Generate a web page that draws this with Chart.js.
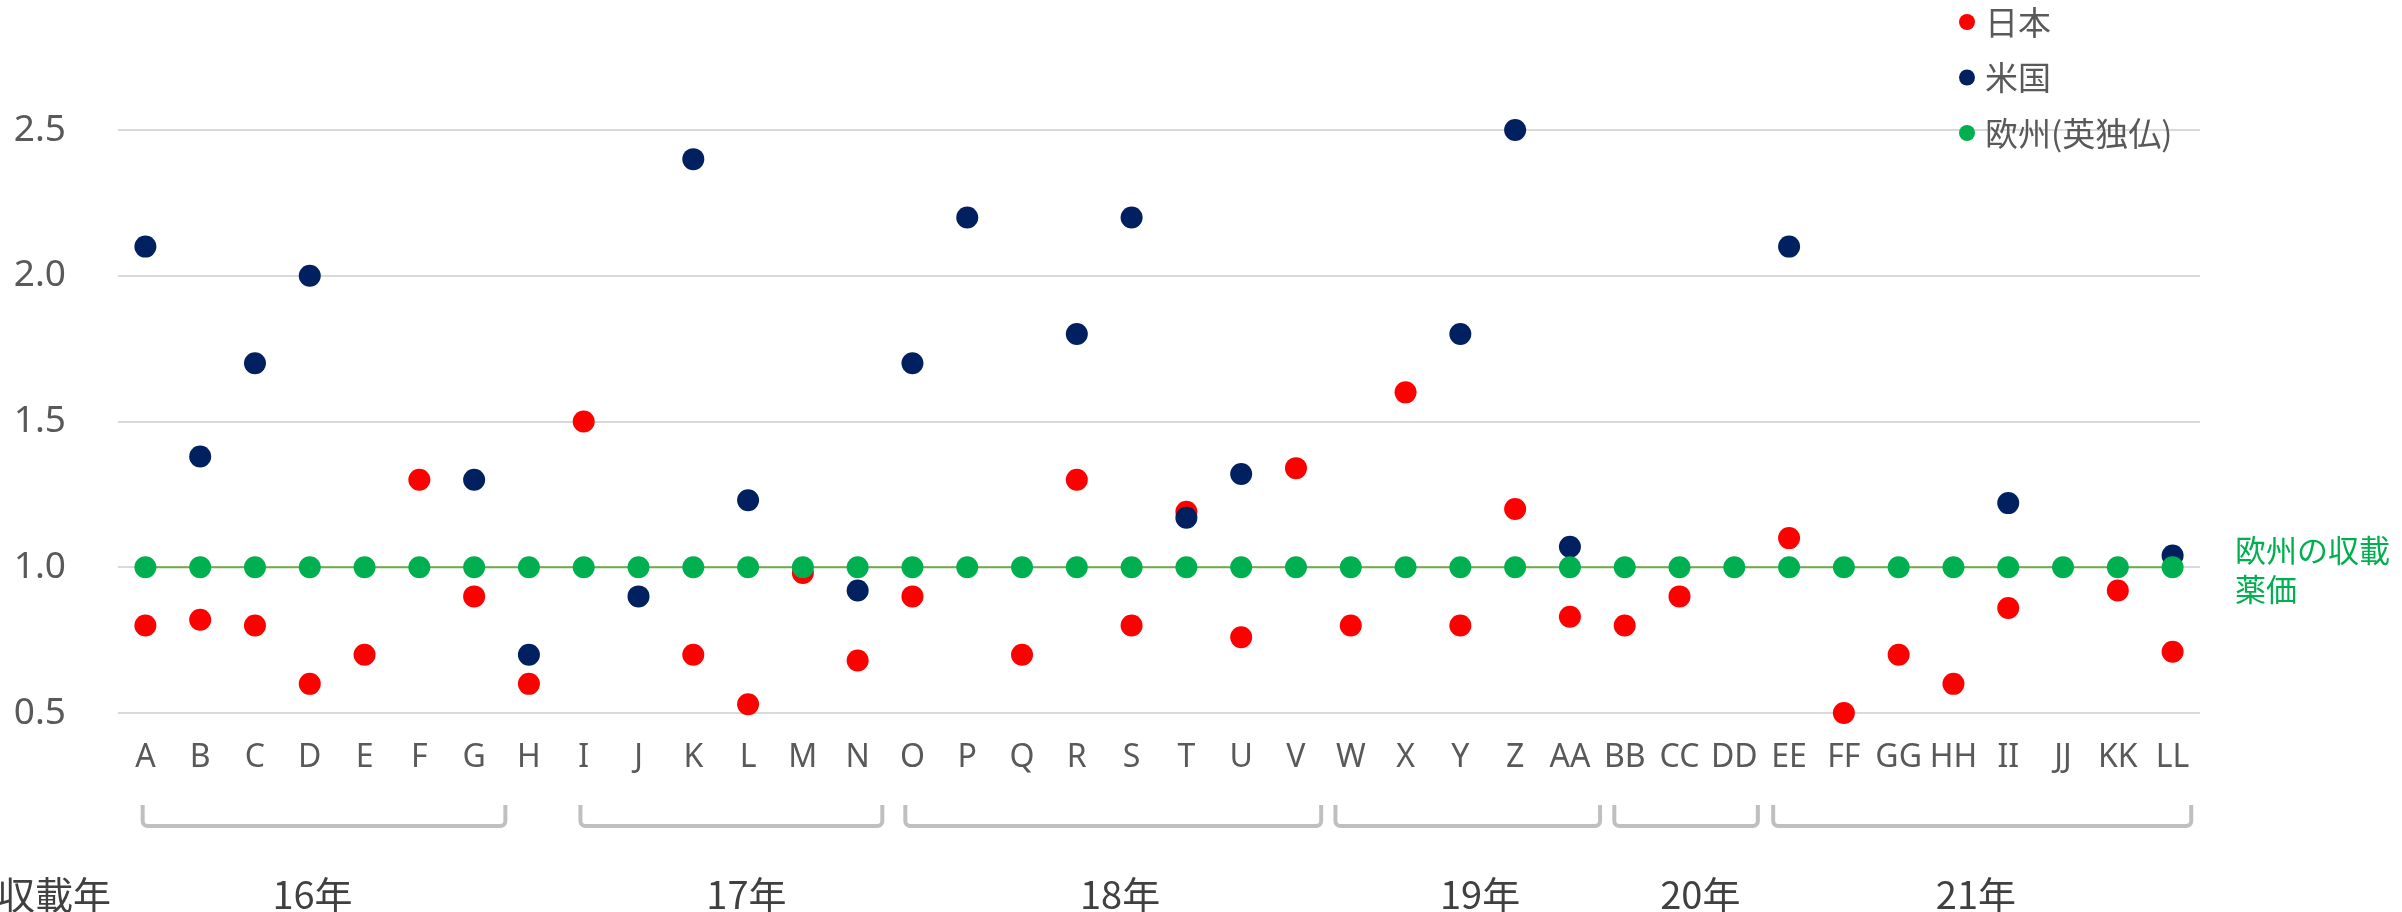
<!DOCTYPE html>
<html>
<head>
<meta charset="utf-8">
<script src="https://cdn.jsdelivr.net/npm/chart.js@4.4.1/dist/chart.umd.min.js"></script>
<style>
  html, body { margin: 0; padding: 0; background: #fff; }
</style>
</head>
<body>
<canvas id="priceChart" width="2402" height="912"></canvas>
<script>
// categories (products) and values
const categories = ['A','B','C','D','E','F','G','H','I','J','K','L','M','N','O','P','Q','R','S','T','U','V','W','X','Y','Z',
                    'AA','BB','CC','DD','EE','FF','GG','HH','II','JJ','KK','LL'];
const japanValues = [0.80, 0.82, 0.80, 0.60, 0.70, 1.30, 0.90, 0.60, 1.50, null, 0.70, 0.53, 0.98, 0.68,
                     0.90, null, 0.70, 1.30, 0.80, 1.19, 0.76, 1.34, 0.80, 1.60, 0.80, 1.20,
                     0.83, 0.80, 0.90, null, 1.10, 0.50, 0.70, 0.60, 0.86, null, 0.92, 0.71];
const usValues = [2.10, 1.38, 1.70, 2.00, null, null, 1.30, 0.70, null, 0.90, 2.40, 1.23, null, 0.92,
                  1.70, 2.20, null, 1.80, 2.20, 1.17, 1.32, null, null, null, 1.80, 2.50,
                  1.07, null, null, null, 2.10, null, null, null, 1.22, null, null, 1.04];
const europeValues = [1, 1, 1, 1, 1, 1, 1, 1, 1, 1, 1, 1, 1, 1, 1, 1, 1, 1, 1, 1, 1, 1, 1, 1, 1, 1,
                      1, 1, 1, 1, 1, 1, 1, 1, 1, 1, 1, 1];
const seriesNames = ['日本', '米国', '欧州(英独仏)'];
const yTicks = [0.5, 1.0, 1.5, 2.0, 2.5];
const yearLabels = ['16年', '17年', '18年', '19年', '20年', '21年'];

// bracket spans under the axis, in category units (layout only)
const bracketFrom = [-0.05, 7.94, 13.87, 21.72, 26.81, 29.71];
const bracketTo = [6.57, 13.45, 21.46, 26.55, 29.43, 37.34];
const yearLabelAt = [3.05, 10.97, 17.79, 24.36, 28.38, 33.41];

const CJK = '"Noto Sans CJK JP", "Noto Sans", sans-serif';
const TEXT = '#595959';
const colors = ['#FF0000', '#002060', '#00B050'];

const overlay = {
  id: 'overlay',
  afterDraw(chart) {
    const ctx = chart.ctx;
    const xs = chart.scales.x;
    ctx.save();

    // year brackets
    ctx.strokeStyle = '#BFBFBF';
    ctx.lineWidth = 4;
    ctx.lineJoin = 'round';
    const top = 805, bottom = 826, r = 5;
    bracketFrom.forEach((from, i) => {
      const x0 = xs.getPixelForValue(from);
      const x1 = xs.getPixelForValue(bracketTo[i]);
      ctx.beginPath();
      ctx.moveTo(x0, top);
      ctx.arcTo(x0, bottom, x0 + r, bottom, r);
      ctx.arcTo(x1, bottom, x1, bottom - r, r);
      ctx.lineTo(x1, top);
      ctx.stroke();
    });

    // year labels
    ctx.fillStyle = '#404040';
    ctx.font = '38px ' + CJK;
    ctx.textBaseline = 'middle';
    ctx.textAlign = 'center';
    yearLabels.forEach((lab, i) => {
      ctx.fillText(lab, xs.getPixelForValue(yearLabelAt[i]), 895);
    });
    ctx.textAlign = 'left';
    ctx.fillText('収載年', -3, 895);

    // legend
    ctx.font = '33px ' + CJK;
    chart.data.datasets.forEach((ds, i) => {
      const y = 22 + i * 55.5;
      ctx.fillStyle = ds.pointBackgroundColor;
      ctx.beginPath();
      ctx.arc(1967, y, 8, 0, Math.PI * 2);
      ctx.fill();
      ctx.fillStyle = TEXT;
      ctx.fillText(ds.label, 1985, y);
    });

    // note for the reference line
    ctx.fillStyle = '#00B050';
    ctx.font = '31px ' + CJK;
    ctx.fillText('欧州の収載', 2235, 550);
    ctx.fillText('薬価', 2235, 589);

    ctx.restore();
  }
};

const ctx = document.getElementById('priceChart').getContext('2d');
const priceChart = new Chart(ctx, {
  type: 'line',
  data: {
    labels: categories,
    datasets: [
      {
        label: seriesNames[0],
        data: japanValues,
        showLine: false,
        pointBackgroundColor: colors[0],
        pointBorderWidth: 0,
        pointRadius: 11,
        pointHoverRadius: 11,
        clip: false,
        order: 3
      },
      {
        label: seriesNames[1],
        data: usValues,
        showLine: false,
        pointBackgroundColor: colors[1],
        pointBorderWidth: 0,
        pointRadius: 11,
        pointHoverRadius: 11,
        clip: false,
        order: 2
      },
      {
        label: seriesNames[2],
        data: europeValues,
        showLine: true,
        borderColor: '#70AD47',
        borderWidth: 2,
        pointBackgroundColor: colors[2],
        pointBorderWidth: 0,
        pointRadius: 11,
        pointHoverRadius: 11,
        clip: false,
        order: 1
      }
    ]
  },
  options: {
    responsive: false,
    animation: false,
    devicePixelRatio: 1,
    layout: { padding: { top: 130, right: 202, left: 0, bottom: 0 } },
    plugins: {
      legend: { display: false },
      tooltip: { enabled: false }
    },
    scales: {
      x: {
        offset: true,
        grid: { display: false, drawTicks: false },
        border: { display: false },
        ticks: {
          autoSkip: false,
          maxRotation: 0,
          padding: 26,
          color: TEXT,
          font: { family: '"Noto Sans", sans-serif', size: 32 }
        },
        afterFit(scale) { scale.height = 199; }
      },
      y: {
        min: 0.5,
        max: 2.5,
        afterBuildTicks(scale) { scale.ticks = yTicks.map(v => ({ value: v })); },
        grid: { color: '#D9D9D9', lineWidth: 2, drawTicks: false },
        border: { display: false },
        ticks: {
          padding: 52,
          color: TEXT,
          font: { family: '"Noto Sans", sans-serif', size: 37 },
          callback: v => Number(v).toFixed(1)
        },
        afterFit(scale) { scale.width = 118; }
      }
    }
  },
  plugins: [overlay]
});
</script>
</body>
</html>
